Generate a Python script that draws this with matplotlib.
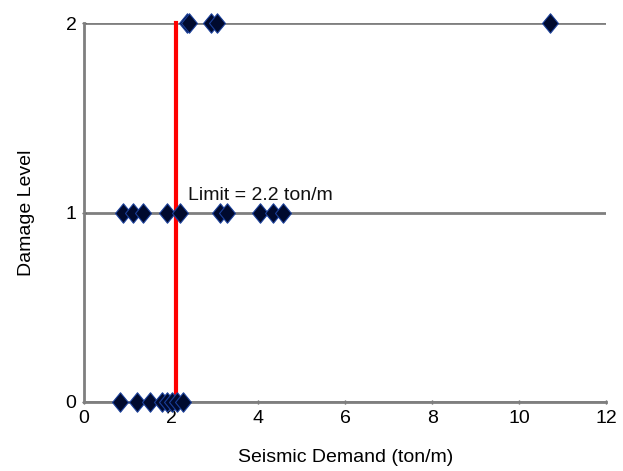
import matplotlib
matplotlib.use("Agg")
import matplotlib.pyplot as plt
from matplotlib.path import Path

plt.rcParams['font.family'] = ['Liberation Sans', 'DejaVu Sans']

level0_x = [0.83, 1.22, 1.52, 1.79, 1.91, 2.02, 2.14, 2.28]
level1_x = [0.9, 1.13, 1.36, 1.9, 2.2, 3.13, 3.29, 4.05, 4.34, 4.57]
level2_x = [2.37, 2.42, 2.92, 3.06, 10.72]
limit_x = 2.12
limit_label = "Limit = 2.2 ton/m"
x_ticks = [0, 2, 4, 6, 8, 10, 12]
y_ticks = [0, 1, 2]

diamond = Path([(0, 1), (0.82, 0), (0, -1), (-0.82, 0), (0, 1)],
               [Path.MOVETO, Path.LINETO, Path.LINETO, Path.LINETO, Path.CLOSEPOLY])

fig = plt.figure(figsize=(6.23, 4.71), dpi=100)
ax = fig.add_axes([0.135, 0.1465, 0.838, 0.8045])

for yv in y_ticks:
    ax.axhline(yv, color='#7f7f7f', lw=2, zorder=1)

ax.plot([limit_x, limit_x], [0, 2], color='#ff0000', lw=3, zorder=2, clip_on=False)

for lvl, xs in zip(y_ticks, [level0_x, level1_x, level2_x]):
    ax.plot(xs, [lvl] * len(xs), linestyle='none', marker=diamond, markersize=14,
            markerfacecolor='#000a2e', markeredgecolor='#1a3f9a', markeredgewidth=0.8,
            zorder=3, clip_on=False)

ax.text(2.39, 1.09, limit_label, fontsize=14, color='#111111', ha='left', va='center')

ax.set_xlim(0, 12)
ax.set_ylim(0, 2)
ax.set_xticks(x_ticks)
ax.set_yticks(y_ticks)
for s in ['top', 'right']:
    ax.spines[s].set_visible(False)
ax.spines['left'].set_color('#7f7f7f')
ax.spines['left'].set_linewidth(2)
ax.spines['bottom'].set_color('#7f7f7f')
ax.spines['bottom'].set_linewidth(2)
ax.tick_params(axis='both', length=3, width=1, color='#555555', labelsize=14, direction='inout')
ax.tick_params(axis='x', pad=4)
ax.tick_params(axis='y', pad=4)
ax.set_xlabel("Seismic Demand (ton/m)", fontsize=14, labelpad=16)
ax.set_ylabel("Damage Level", fontsize=14, labelpad=22)

fig.savefig("out.png", dpi=100)
